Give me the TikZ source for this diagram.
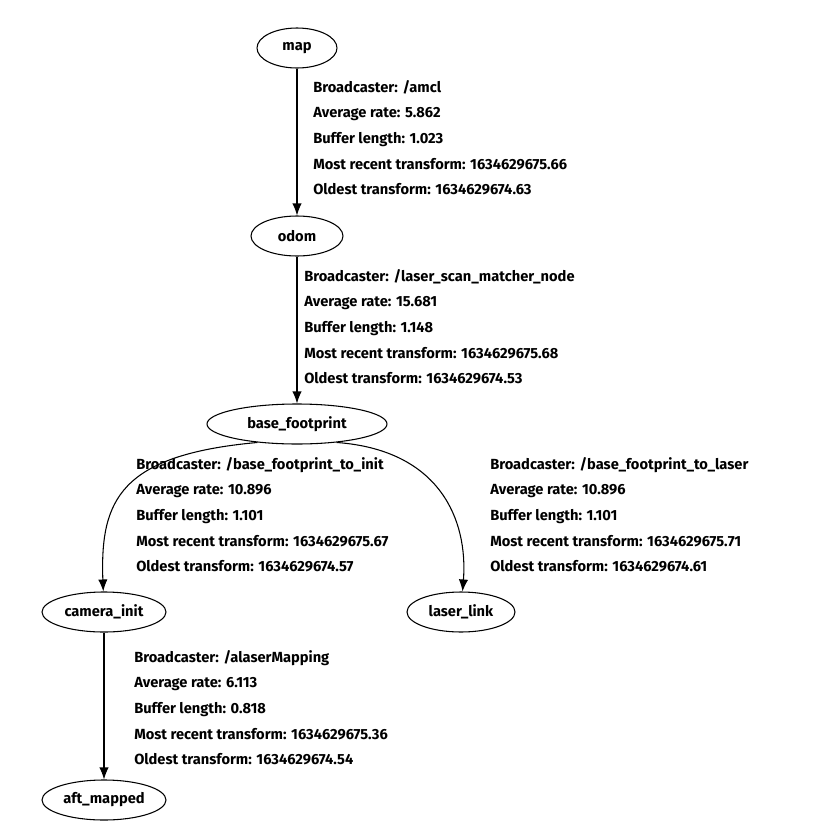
\documentclass[tikz,border=0pt]{standalone}
\usepackage{fontspec}
\setmainfont{Fira Sans}
\usetikzlibrary{shapes.geometric,arrows.meta}
\begin{document}
\begin{tikzpicture}[x=0.75pt,y=-0.75pt,
  nd/.style={ellipse,draw,line width=0.8pt,minimum height=30pt,inner sep=0pt,font=\fontsize{11pt}{13pt}\selectfont\bfseries},
  lb/.style={anchor=north west,align=left,inner sep=0pt,font=\fontsize{11pt}{19.2pt}\selectfont\bfseries},
  ed/.style={-{Latex[length=9pt,width=7pt]},line width=0.8pt}]
\useasboundingbox (0,0) rectangle (818,836);
\node[nd,minimum width=60pt] (map) at (297,48) {map};
\node[nd,minimum width=69pt] (odom) at (297,236) {odom};
\node[nd,minimum width=135pt] (base) at (297,424) {base\_footprint};
\node[nd,minimum width=93pt] (cam) at (104,612) {camera\_init};
\node[nd,minimum width=81pt] (laser) at (461,612) {laser\_link};
\node[nd,minimum width=93pt] (aft) at (104,800) {aft\_mapped};
\draw[ed] (map) -- (odom);
\draw[ed] (odom) -- (base);
\draw[ed] (base.205) .. controls (120,455) and (100,500) .. (cam);
\draw[ed] (base.335) .. controls (440,450) and (468,520) .. (laser);
\draw[ed] (cam) -- (aft);
\node[lb] (l1) at (313,80) {Broadcaster: /amcl\\Average rate: 5.862\\Buffer length: 1.023\\Most recent transform: 1634629675.66\\Oldest transform: 1634629674.63};
\node[lb] (l2) at (304,269) {Broadcaster: /laser\_scan\_matcher\_node\\Average rate: 15.681\\Buffer length: 1.148\\Most recent transform: 1634629675.68\\Oldest transform: 1634629674.53};
\node[lb] (l3) at (136,457) {Broadcaster: /base\_footprint\_to\_init\\Average rate: 10.896\\Buffer length: 1.101\\Most recent transform: 1634629675.67\\Oldest transform: 1634629674.57};
\node[lb] (l4) at (490,457) {Broadcaster: /base\_footprint\_to\_laser\\Average rate: 10.896\\Buffer length: 1.101\\Most recent transform: 1634629675.71\\Oldest transform: 1634629674.61};
\node[lb] (l5) at (134,650) {Broadcaster: /alaserMapping\\Average rate: 6.113\\Buffer length: 0.818\\Most recent transform: 1634629675.36\\Oldest transform: 1634629674.54};
\end{tikzpicture}
\end{document}
